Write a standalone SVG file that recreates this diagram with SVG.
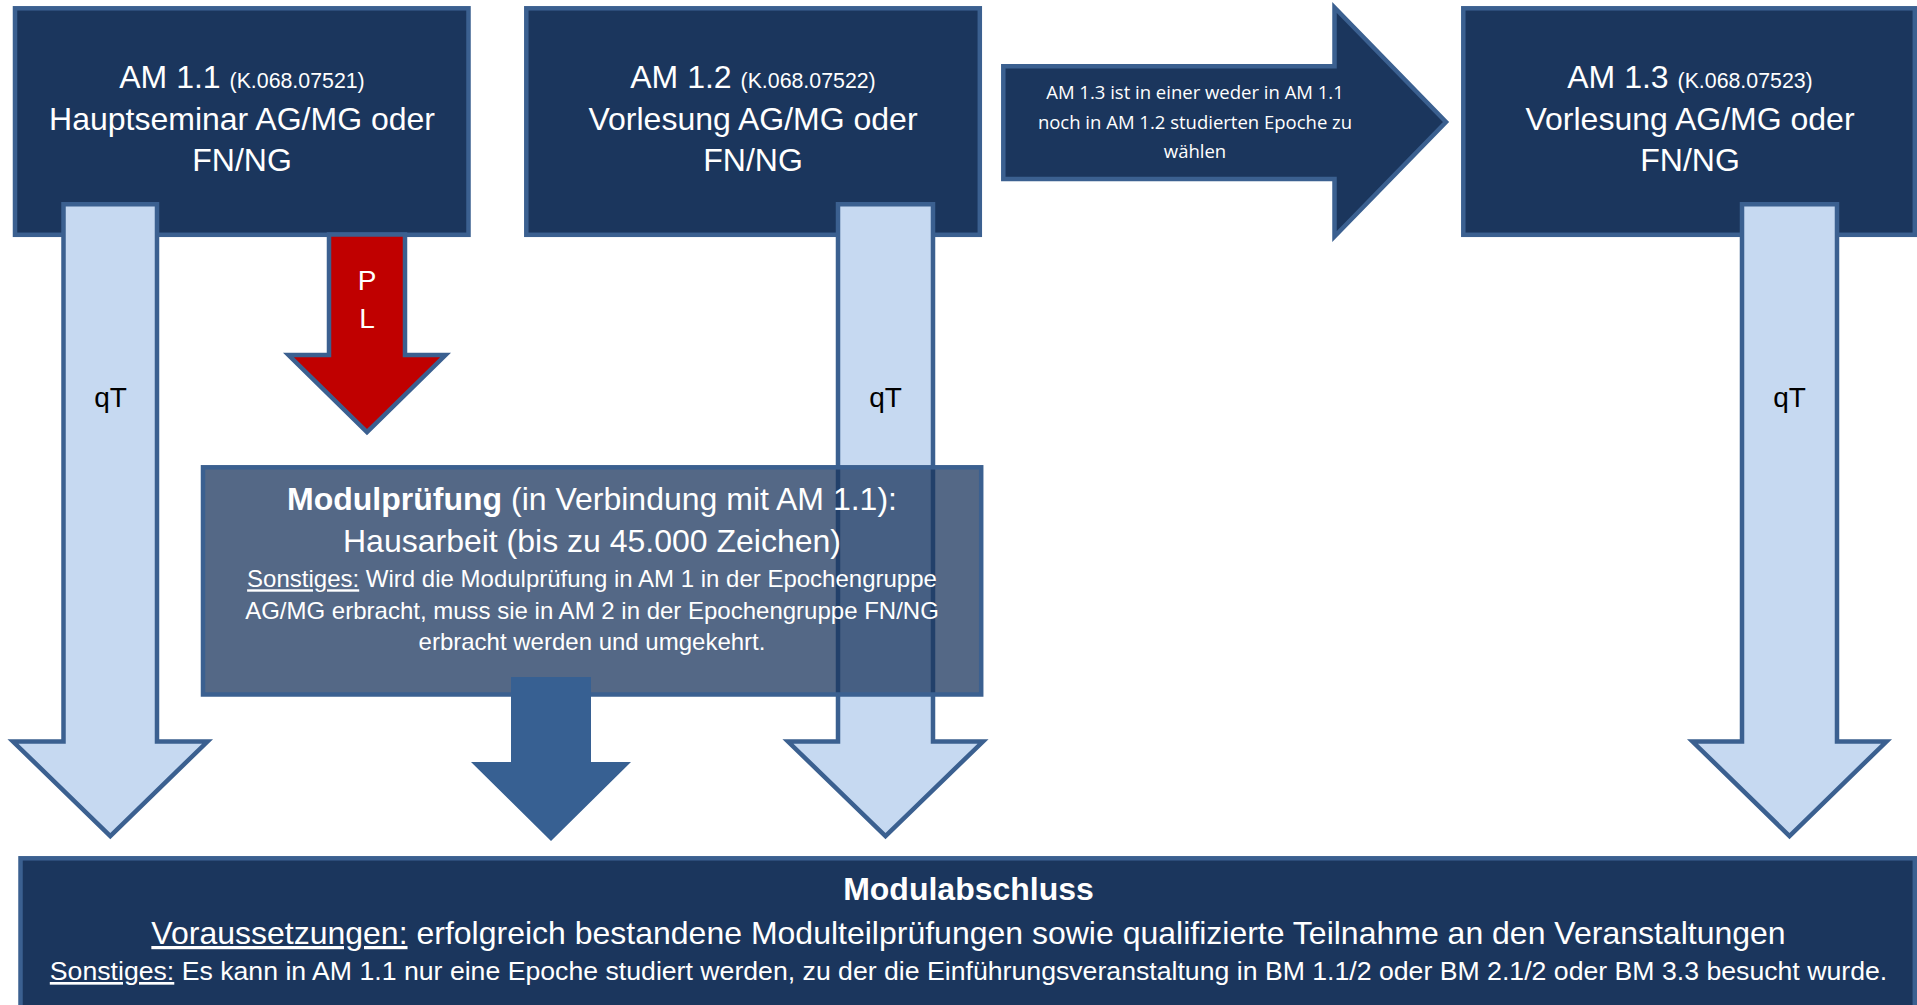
<svg xmlns="http://www.w3.org/2000/svg" width="1917" height="1005" viewBox="0 0 1917 1005">
<style>
.box{fill:#1b365d;stroke:#3b6090;stroke-width:4.5}
.qt{fill:#c6d9f1;stroke:#3b6090;stroke-width:4.5}
.pl{fill:#c00000;stroke:#3b6090;stroke-width:4.5}
.go{fill:#1b365d;stroke:#3b6090;stroke-width:4.5}
.ex{fill:#376092}
.t{font-family:"Liberation Sans",Arial,sans-serif;fill:#ffffff;text-anchor:middle}
.h{font-size:32px}
.s{font-size:21.33px}
.k{font-family:"Liberation Sans",Arial,sans-serif;font-size:28px;fill:#000000;text-anchor:middle}
.c{font-family:"Open Sans","Liberation Sans",sans-serif;font-size:18.5px;fill:#ffffff;text-anchor:middle}
</style>
<defs>
<mask id="m-exam" maskUnits="userSpaceOnUse" x="0" y="0" width="1917" height="1005">
<rect x="0" y="0" width="1917" height="1005" fill="#ffffff"/>
<rect x="511" y="677" width="80" height="30" fill="#000000"/>
</mask>
</defs>
<rect x="0" y="0" width="1917" height="1005" fill="#ffffff"/>

<g id="am11">
<rect class="box" x="15" y="8.3" width="453.5" height="226.5"/>
<text class="t h" x="242" y="88">AM 1.1 <tspan class="s">(K.068.07521)</tspan></text>
<text class="t h" x="242" y="129.5">Hauptseminar AG/MG oder</text>
<text class="t h" x="242" y="171">FN/NG</text>
</g>

<g id="am12">
<rect class="box" x="526.3" y="8.3" width="453.5" height="226.5"/>
<text class="t h" x="753" y="88">AM 1.2 <tspan class="s">(K.068.07522)</tspan></text>
<text class="t h" x="753" y="129.5">Vorlesung AG/MG oder</text>
<text class="t h" x="753" y="171">FN/NG</text>
</g>

<g id="am13">
<rect class="box" x="1463.3" y="8.3" width="451.5" height="226.5"/>
<text class="t h" x="1690" y="88">AM 1.3 <tspan class="s">(K.068.07523)</tspan></text>
<text class="t h" x="1690" y="129.5">Vorlesung AG/MG oder</text>
<text class="t h" x="1690" y="171">FN/NG</text>
</g>

<g id="connectors">
<g id="arrow-pl">
<path class="pl" d="M329,234.5 H405 V355 H445.5 L367,432 L288.5,355 H329 Z"/>
<text class="t" font-size="28" x="367" y="290">P</text>
<text class="t" font-size="28" x="367" y="328">L</text>
</g>
<g id="arrow-qt-11">
<path class="qt" d="M63.5,204.3 H157 V741.5 H207.5 L110.3,836 L13,741.5 H63.5 Z"/>
<text class="k" x="110.5" y="407">qT</text>
</g>
<g id="arrow-qt-12">
<path class="qt" d="M838,204.3 H933 V741.5 H983 L885.5,836 L788,741.5 H838 Z"/>
<text class="k" x="885.5" y="407">qT</text>
</g>
<g id="arrow-qt-13">
<path class="qt" d="M1742,204.3 H1837 V741.5 H1886.5 L1789.5,836 L1692.5,741.5 H1742 Z"/>
<text class="k" x="1789.5" y="407">qT</text>
</g>
<g id="arrow-choice">
<path class="go" d="M1003.3,66.3 H1334.5 V7.5 L1446,122 L1334.5,236.5 V179 H1003.3 Z"/>
<text class="c" x="1195" y="99.3">AM 1.3 ist in einer weder in AM 1.1</text>
<text class="c" x="1195" y="128.8">noch in AM 1.2 studierten Epoche zu</text>
<text class="c" x="1195" y="158.3">wählen</text>
</g>
<g id="arrow-exam">
<polygon class="ex" points="511,677 591,677 591,762 631,762 551,841 471,762 511,762"/>
</g>
</g>

<g id="modulpruefung">
<rect x="203" y="467.3" width="778.2" height="227.2" fill="#1b365d" fill-opacity="0.75" stroke="#3b6090" stroke-width="4.5" mask="url(#m-exam)"/>
<text class="t h" x="592" y="510"><tspan font-weight="bold">Modulprüfung</tspan> (in Verbindung mit AM 1.1):</text>
<text class="t h" x="592" y="551.7">Hausarbeit (bis zu 45.000 Zeichen)</text>
<text class="t" font-size="24" x="592" y="587.3"><tspan text-decoration="underline">Sonstiges:</tspan> Wird die Modulprüfung in AM 1 in der Epochengruppe</text>
<text class="t" font-size="24" x="592" y="618.5">AG/MG erbracht, muss sie in AM 2 in der Epochengruppe FN/NG</text>
<text class="t" font-size="24" x="592" y="650">erbracht werden und umgekehrt.</text>
</g>

<g id="modulabschluss">
<rect class="box" x="20.5" y="858.3" width="1894.3" height="160"/>
<text class="t h" x="968.5" y="900" font-weight="bold">Modulabschluss</text>
<text class="t h" x="968.5" y="944"><tspan text-decoration="underline">Voraussetzungen:</tspan> erfolgreich bestandene Modulteilprüfungen sowie qualifizierte Teilnahme an den Veranstaltungen</text>
<text class="t" font-size="26.67" x="968.5" y="980"><tspan text-decoration="underline">Sonstiges:</tspan> Es kann in AM 1.1 nur eine Epoche studiert werden, zu der die Einführungsveranstaltung in BM 1.1/2 oder BM 2.1/2 oder BM 3.3 besucht wurde.</text>
</g>
</svg>
